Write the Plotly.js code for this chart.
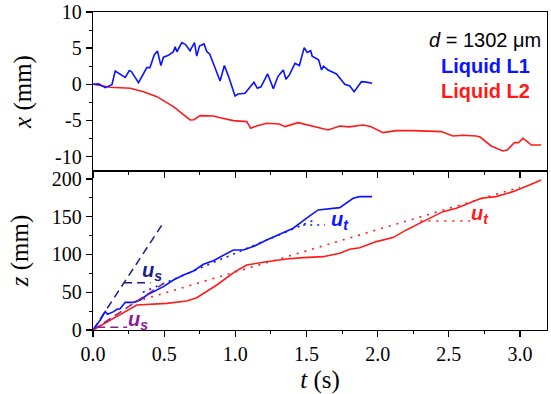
<!DOCTYPE html>
<html>
<head>
<meta charset="utf-8">
<script src="https://cdn.plot.ly/plotly-3.0.1.min.js"></script>
<style>html,body{margin:0;padding:0;background:#fff;}#chart{width:551px;height:394px;}</style>
</head>
<body>
<div id="chart"></div>
<script>
// Top panel: lateral displacement x (mm) vs time t (s)
const tL1x = [0, 0.04, 0.086, 0.133, 0.156, 0.227, 0.255, 0.27, 0.32, 0.378, 0.4, 0.43, 0.453, 0.477, 0.495, 0.53, 0.565, 0.577, 0.59, 0.624, 0.65, 0.682, 0.713, 0.729, 0.748, 0.78, 0.8, 0.82, 0.893, 0.923, 0.953, 0.998, 1.02, 1.068, 1.131, 1.155, 1.18, 1.227, 1.267, 1.3, 1.337, 1.356, 1.38, 1.419, 1.45, 1.484, 1.505, 1.529, 1.54, 1.571, 1.585, 1.606, 1.62, 1.652, 1.711, 1.769, 1.804, 1.835, 1.886, 1.92, 1.961];
const xL1 = [0, 0.05, -0.47, -0.05, 1.84, 0.96, 1.89, 1.75, 0.23, 2.3, 2.3, 4.05, 4.6, 2.58, 3.75, 4.0, 4.5, 5.2, 4.5, 5.76, 5.5, 4.65, 5.76, 3.9, 5.3, 5.58, 4.5, 4.2, 0.46, 2.6, 1.06, -1.62, -1.35, -1.25, 0.28, -0.56, -0.35, 1.43, -0.6, 1.1, 1.98, 0.69, 1.3, 2.9, 2.6, 5.07, 4.4, 4.65, 3.9, 3.6, 3.4, 1.98, 2.5, 1.98, 1.43, 0, -0.24, -1.02, 0.36, 0.3, 0.14];
const tL2x = [0, 0.121, 0.262, 0.355, 0.449, 0.565, 0.682, 0.71, 0.753, 0.846, 0.893, 0.986, 1.08, 1.108, 1.15, 1.22, 1.31, 1.349, 1.442, 1.547, 1.652, 1.734, 1.8, 1.898, 1.95, 2.038, 2.132, 2.248, 2.35, 2.447, 2.529, 2.6, 2.693, 2.72, 2.798, 2.879, 2.91, 2.961, 2.99, 3.02, 3.05, 3.079, 3.149];
const xL2 = [0, -0.42, -0.55, -1.02, -1.71, -3.1, -4.94, -4.9, -4.34, -4.39, -4.62, -5.03, -5.17, -6.09, -5.77, -5.4, -5.49, -5.86, -5.31, -5.86, -6.32, -5.77, -5.9, -5.63, -5.85, -6.69, -6.42, -6.42, -6.5, -6.55, -7.15, -7.05, -7.15, -7.3, -8.54, -9.23, -9.1, -8.08, -8.1, -7.48, -7.9, -8.4, -8.4];

// Bottom panel: vertical position z (mm) vs time t (s)
const tL1z = [0, 0.051, 0.086, 0.103, 0.145, 0.168, 0.19, 0.227, 0.285, 0.332, 0.379, 0.449, 0.495, 0.565, 0.636, 0.706, 0.776, 0.846, 0.916, 0.986, 1.056, 1.126, 1.22, 1.313, 1.337, 1.407, 1.501, 1.582, 1.734, 1.828, 1.874, 1.961];
const zL1 = [0, 13.2, 24.3, 20.8, 24.3, 27.3, 28, 36.6, 36.6, 39.7, 46.3, 53, 57.4, 66.2, 72.8, 78.1, 87, 91.8, 98.5, 106, 106, 110.4, 119.2, 126.7, 128, 134.7, 148, 159, 162, 174.4, 176.6, 176.6];
const tL2z = [0, 0.308, 0.519, 0.659, 0.729, 0.87, 0.998, 1.08, 1.196, 1.313, 1.36, 1.477, 1.617, 1.734, 1.804, 1.874, 1.992, 2.108, 2.202, 2.318, 2.459, 2.553, 2.646, 2.728, 2.833, 2.95, 3.067, 3.149];
const zL2 = [0, 33.1, 35.3, 38.4, 42.8, 59.6, 77.3, 86.1, 89.6, 92.7, 94, 95.8, 97.1, 101.6, 106.9, 109, 117, 122.3, 132.5, 143.5, 156.7, 161.2, 167.8, 174.4, 176.6, 183.2, 192, 198.7];

// Velocity guide lines (u_s: initial, u_t: terminal)
const usL1_t = [0, 0.5],   usL1_z = [0, 143.5];
const usL1h_t = [0.218, 0.405], usL1h_z = [62.7, 62.7];
const usL2_t = [0, 0.5],   usL2_z = [0, 62];
const usL2h_t = [0.03, 0.24], usL2h_z = [3.5, 3.5];
const utL1_t = [0.35, 1.56], utL1_z = [50, 146];
const utL1h_t = [1.477, 1.63], utL1h_z = [139, 139];
const utL2_t = [0.3, 3.0], utL2_z = [37.5, 189];
const utL2h_t = [2.3, 2.65], utL2h_z = [144.4, 144.4];

const xTickVals = [-10, -5, 0, 5, 10];
const xTickText = ['-10', '-5', '0', '5', '10'];

const BLUE = '#0a14ff', RED = '#ff1a1a', NAVY = '#1a1a8c', PURPLE = '#8e1c8e';

function line(t, y, color, axes, dash, width) {
  return {x: t, y: y, type: 'scatter', mode: 'lines', xaxis: axes[0], yaxis: axes[1],
    line: {color: color, width: width || 1.6, dash: dash || 'solid'}, hoverinfo: 'skip', showlegend: false};
}

const data = [
  line(tL2x, xL2, RED, ['x2', 'y2']),
  line(tL1x, xL1, BLUE, ['x2', 'y2']),
  line(usL1_t, usL1_z, NAVY, ['x', 'y'], '8px,5px', 1.5),
  line(usL1h_t, usL1h_z, NAVY, ['x', 'y'], '8px,5px', 1.5),
  line(utL1_t, utL1_z, BLUE, ['x', 'y'], '2px,5px', 1.6),
  line(utL1h_t, utL1h_z, BLUE, ['x', 'y'], '2px,5px', 1.6),
  line(utL2_t, utL2_z, RED, ['x', 'y'], '2px,6px', 1.6),
  line(utL2h_t, utL2h_z, RED, ['x', 'y'], '2px,6px', 1.6),
  line(tL2z, zL2, RED, ['x', 'y']),
  line(tL1z, zL1, BLUE, ['x', 'y']),
  line(usL2_t, usL2_z, PURPLE, ['x', 'y'], '8px,5px', 1.5),
  line(usL2h_t, usL2h_z, PURPLE, ['x', 'y'], '8px,5px', 1.5)
];

const serif = 'Liberation Serif';
const sans = 'Liberation Sans';
const tickFont = {family: serif, size: 20, color: '#000'};
const titleFont = {family: serif, size: 25, color: '#000'};

const axisCommon = {
  showline: true, linecolor: '#000', linewidth: 1.3, mirror: true,
  ticks: 'outside', ticklen: 6, tickwidth: 1.3, tickcolor: '#000',
  showgrid: false, zeroline: false, tickfont: tickFont,
  minor: {ticks: 'outside', ticklen: 3, tickwidth: 1.1, tickcolor: '#000', showgrid: false}
};

function lbl(text, x, y, color, xref, yref, extra) {
  return Object.assign({text: text, x: x, y: y, xref: xref || 'x', yref: yref || 'y', showarrow: false,
    font: {family: sans, size: 20, color: color}, xanchor: 'left', yanchor: 'middle'}, extra || {});
}

const layout = {
  width: 551, height: 394,
  margin: {l: 93, r: 4, t: 12, b: 64},
  paper_bgcolor: '#fff', plot_bgcolor: '#fff',
  showlegend: false,
  font: {family: serif},
  xaxis: Object.assign({}, axisCommon, {
    domain: [0, 1], anchor: 'y', range: [0, 3.19], dtick: 0.5, tick0: 0, tickformat: '.1f',
    minor: Object.assign({}, axisCommon.minor, {dtick: 0.25}),
    title: {text: '<i>t</i> (s)', font: titleFont, standoff: 6}
  }),
  yaxis: Object.assign({}, axisCommon, {
    domain: [0, 0.5], anchor: 'x', range: [0, 210.5], dtick: 50, tick0: 0,
    minor: Object.assign({}, axisCommon.minor, {dtick: 25}),
    title: {text: '<i>z</i> (mm)', font: titleFont, standoff: 16}
  }),
  xaxis2: Object.assign({}, axisCommon, {
    domain: [0, 1], anchor: 'y2', range: [0, 3.19], dtick: 0.5, tick0: 0, showticklabels: false,
    minor: Object.assign({}, axisCommon.minor, {dtick: 0.25})
  }),
  yaxis2: Object.assign({}, axisCommon, {
    domain: [0.5, 1], anchor: 'x2', range: [-12, 10], tickmode: 'array',
    tickvals: xTickVals, ticktext: xTickText,
    minor: Object.assign({}, axisCommon.minor, {dtick: 2.5, tick0: 0}),
    title: {text: '<i>x</i> (mm)', font: titleFont, standoff: 16}
  }),
  annotations: [
    lbl('<i>d</i> = 1302 μm', 0.8645, 0.912, '#000', 'paper', 'paper', {xanchor: 'center'}),
    lbl('<b>Liquid L1</b>', 0.8645, 0.831, BLUE, 'paper', 'paper', {xanchor: 'center'}),
    lbl('<b>Liquid L2</b>', 0.8645, 0.7516, RED, 'paper', 'paper', {xanchor: 'center'}),
    lbl('<b><i>u</i></b><sub><b><i>s</i></b></sub>', 0.332, 77, NAVY),
    lbl('<b><i>u</i></b><sub><b><i>s</i></b></sub>', 0.234, 13, PURPLE),
    lbl('<b><i>u</i></b><sub><b><i>t</i></b></sub>', 1.66, 145, BLUE),
    lbl('<b><i>u</i></b><sub><b><i>t</i></b></sub>', 2.64, 153, RED)
  ]
};

Plotly.newPlot('chart', data, layout, {staticPlot: true, displayModeBar: false});
</script>
</body>
</html>
